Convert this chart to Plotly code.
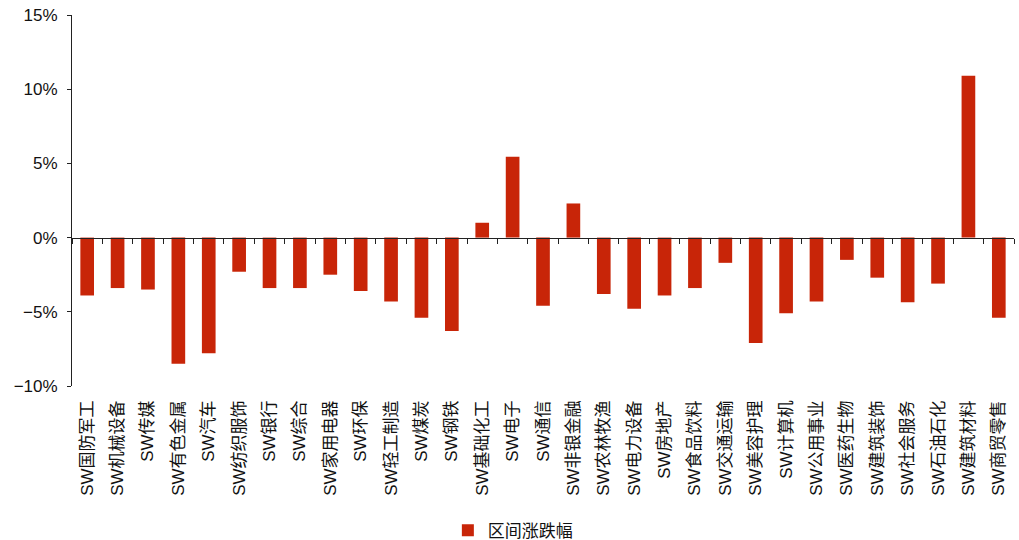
import plotly.graph_objects as go

categories = ["SW国防军工", "SW机械设备", "SW传媒", "SW有色金属", "SW汽车", "SW纺织服饰",
              "SW银行", "SW综合", "SW家用电器", "SW环保", "SW轻工制造", "SW煤炭", "SW钢铁",
              "SW基础化工", "SW电子", "SW通信", "SW非银金融", "SW农林牧渔", "SW电力设备",
              "SW房地产", "SW食品饮料", "SW交通运输", "SW美容护理", "SW计算机", "SW公用事业",
              "SW医药生物", "SW建筑装饰", "SW社会服务", "SW石油石化", "SW建筑材料", "SW商贸零售"]
values = [-3.9, -3.4, -3.5, -8.5, -7.8, -2.3,
          -3.4, -3.4, -2.5, -3.6, -4.3, -5.4, -6.3,
          1.0, 5.45, -4.6, 2.3, -3.8, -4.8,
          -3.9, -3.4, -1.7, -7.1, -5.1, -4.3,
          -1.5, -2.7, -4.35, -3.1, 10.9, -5.4]
series_name = "区间涨跌幅"
y_ticks = [-10, -5, 0, 5, 10, 15]
y_tick_text = ["\u221210%", "\u22125%", "0%", "5%", "10%", "15%"]

FONT = "Liberation Sans, Arial, Noto Sans CJK SC, sans-serif"
RED = "#C82508"
AXIS = "#222222"

fig = go.Figure()
fig.add_trace(go.Bar(x=categories, y=values, name=series_name, marker_color=RED,
                     marker_line_width=0, width=0.45))
# invisible helper trace to carry the zero-level axis
fig.add_trace(go.Scatter(x=categories, y=[0] * len(categories), xaxis="x2", mode="none",
                         showlegend=False, hoverinfo="skip"))

n = len(categories)
fig.update_layout(
    width=1019, height=540,
    margin=dict(l=72, r=5, t=15, b=154, autoexpand=False),
    paper_bgcolor="white", plot_bgcolor="white",
    font=dict(family=FONT, size=17, color="#111111"),
    showlegend=True,
    legend=dict(orientation="h", x=0.468, xanchor="center", y=-0.39, yanchor="middle",
                font=dict(size=17), itemwidth=30),
    xaxis=dict(type="category", range=[-0.5, n - 0.5], tickangle=-90, automargin=False,
               showline=False, showgrid=False, zeroline=False, ticks="",
               ticklabelstandoff=10, tickfont=dict(size=17)),
    xaxis2=dict(type="category", range=[-0.5, n - 0.5], overlaying="x", anchor="free",
                position=0.4, side="bottom", showline=True, linecolor=AXIS, linewidth=1.2,
                ticks="outside", tickson="boundaries", ticklen=5, tickwidth=1.2,
                tickcolor=AXIS, showticklabels=False, showgrid=False, zeroline=False,
                automargin=False),
    yaxis=dict(range=[-10, 15], tickmode="array", tickvals=y_ticks, ticktext=y_tick_text,
               showline=True, linecolor=AXIS, linewidth=1, ticks="outside", ticklen=4,
               tickcolor=AXIS, showgrid=False, zeroline=False, tickfont=dict(size=17),
               ticklabelstandoff=6, automargin=False),
    bargap=0.55,
)

fig.write_html("out.html")
